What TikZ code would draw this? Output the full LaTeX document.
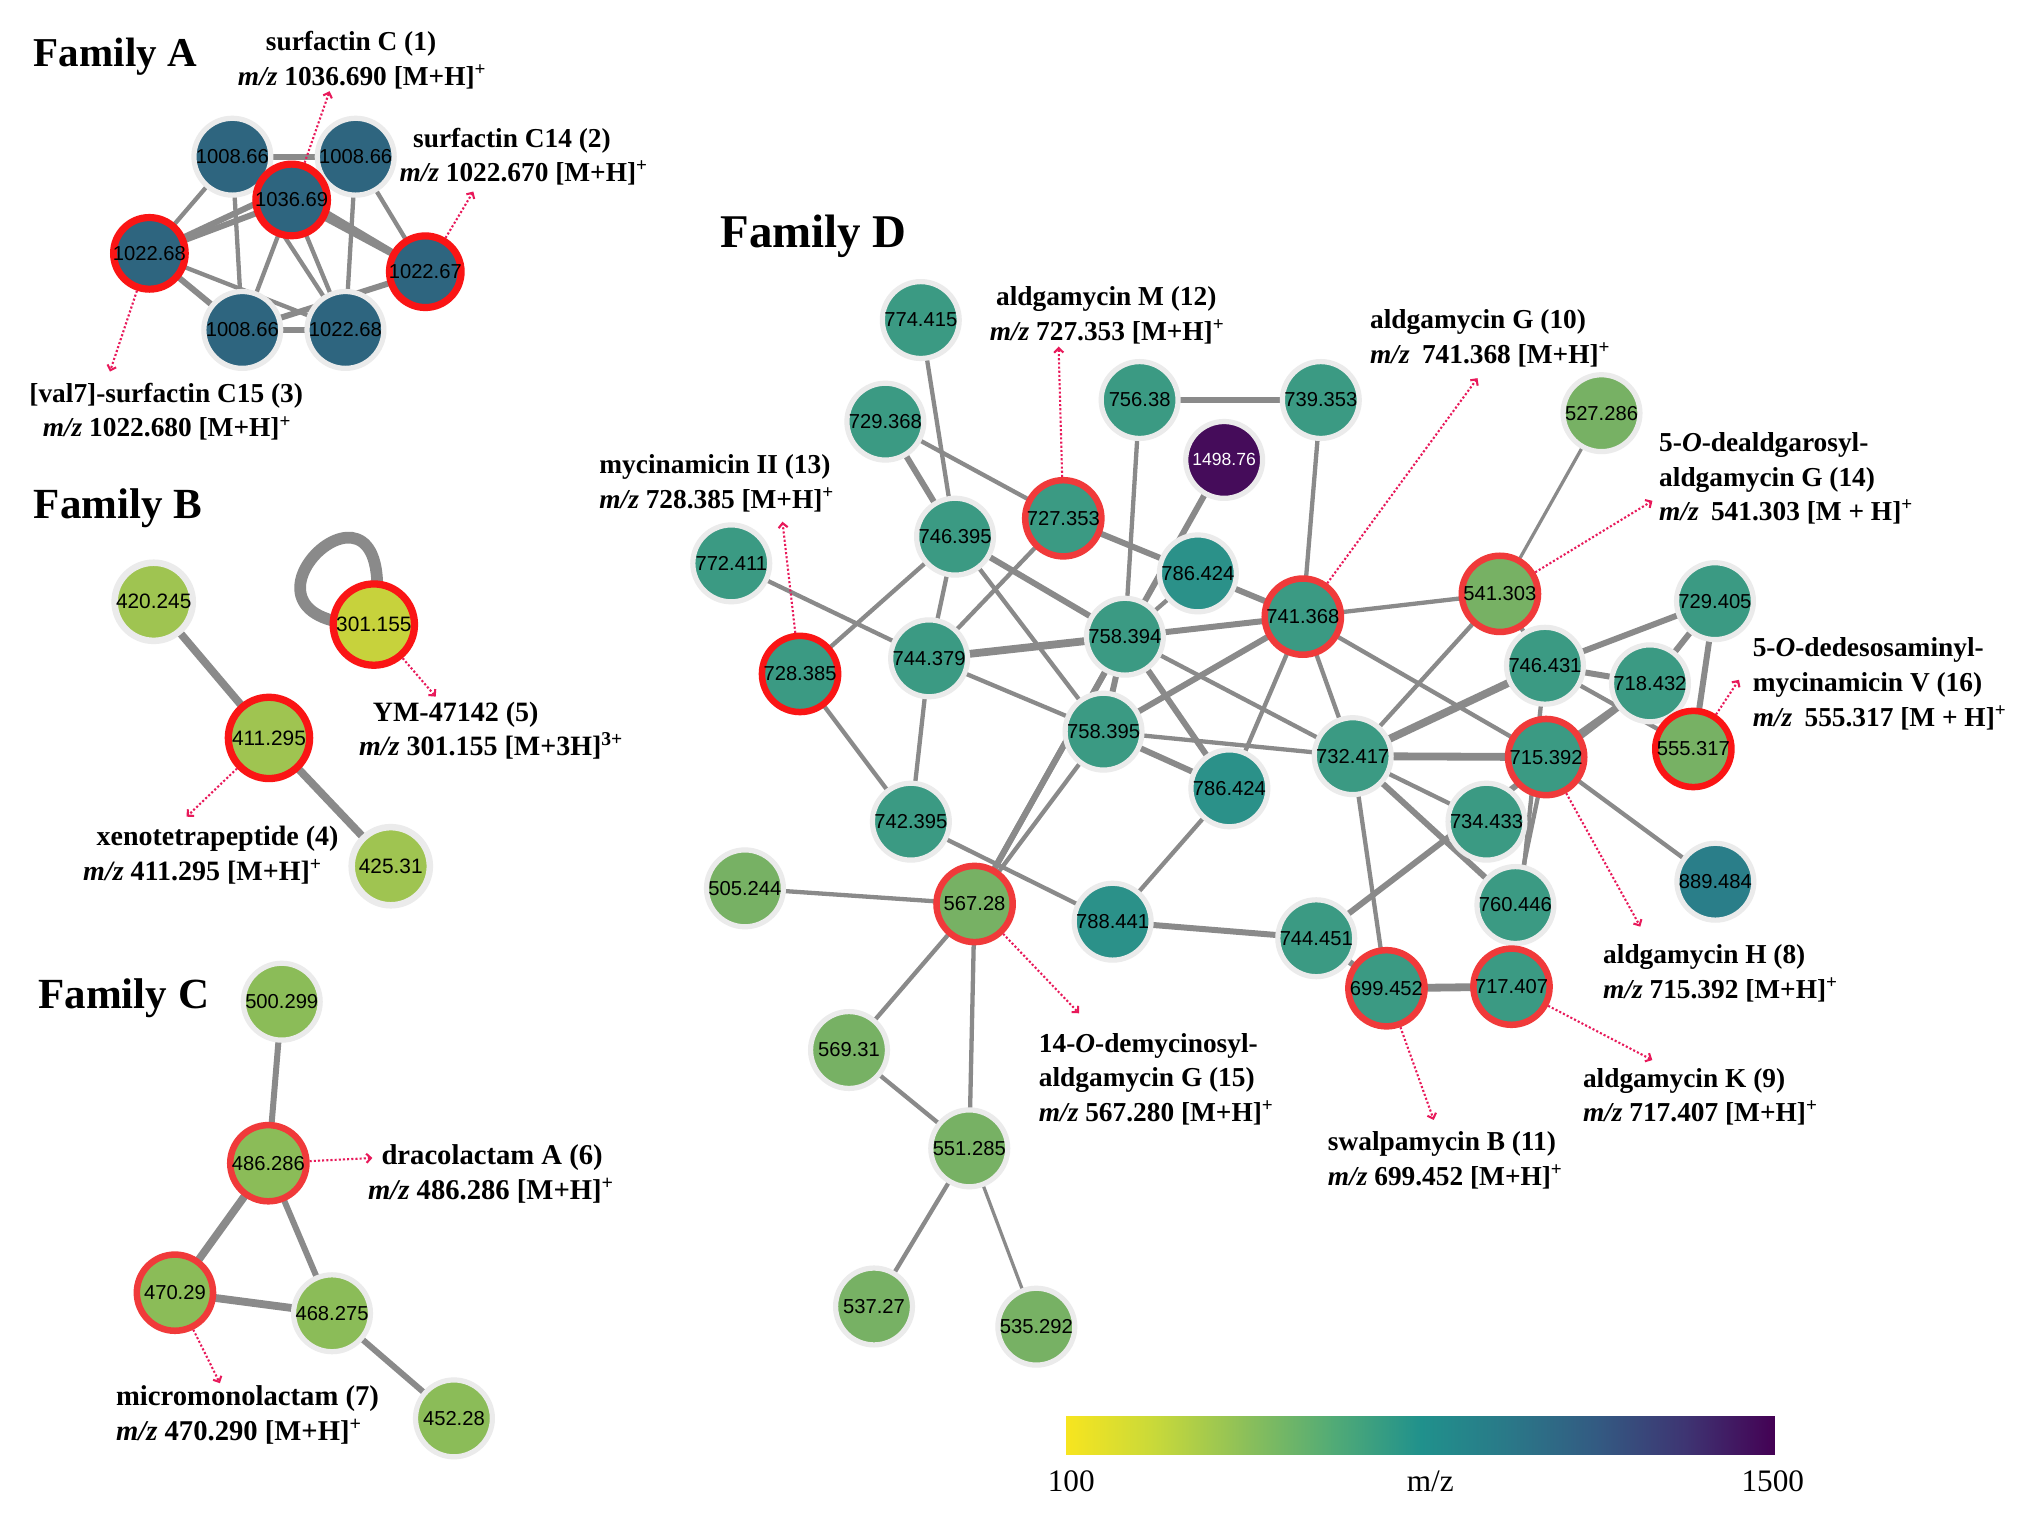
\documentclass[tikz,border=0pt]{standalone}
\usepackage{fontspec}
\setmainfont{Liberation Serif}
\setsansfont{Liberation Sans}
\usetikzlibrary{arrows.meta,backgrounds}
\definecolor{edgec}{HTML}{8A8A8A}
\definecolor{outl}{HTML}{EBEBEB}
\definecolor{red1}{HTML}{FA1515}
\definecolor{red2}{HTML}{F03A3A}
\definecolor{pk}{HTML}{E8195A}
\definecolor{famA}{HTML}{2E657F}
\definecolor{ylw}{HTML}{C7D23C}
\definecolor{gB}{HTML}{9FC451}
\definecolor{gC}{HTML}{8BBC58}
\definecolor{gD}{HTML}{77B164}
\definecolor{tl}{HTML}{3B9A83}
\definecolor{tlb}{HTML}{2B9189}
\definecolor{tlc}{HTML}{2A7E89}
\definecolor{pur}{HTML}{450C5A}
\definecolor{cb0}{HTML}{F7E51F}
\definecolor{cb1}{HTML}{C8D93A}
\definecolor{cb2}{HTML}{8DC059}
\definecolor{cb3}{HTML}{52AB76}
\definecolor{cb4}{HTML}{20918C}
\definecolor{cb5}{HTML}{2A7888}
\definecolor{cb6}{HTML}{335A82}
\definecolor{cb7}{HTML}{3E3472}
\definecolor{cb8}{HTML}{440154}
\newcommand{\ctr}[1]{\makebox[0pt]{#1}}
\newcommand{\mzi}{\textit{m/z}}
\newcommand{\sps}{\textsuperscript{+}}
\newcommand{\edg}[3]{\draw[#1] (#2.center) -- (#3.center);}
\tikzset{
  nd/.style={circle, inner sep=0pt, minimum size=59pt, draw=outl, line width=4pt,
    font=\sffamily\fontsize{15.5}{16}\selectfont, text=black},
  rd1/.style={nd, minimum size=58.5pt, draw=red1, line width=5pt},
  rd2/.style={nd, minimum size=58.5pt, draw=red2, line width=5pt},
  rdA/.style={nd, minimum size=55pt, draw=red1, line width=5.5pt},
  ndB/.style={nd, minimum size=60pt, line width=5pt, font=\sffamily\fontsize{16}{16}\selectfont},
  rdB/.style={ndB, minimum size=62.4pt, draw=red1, line width=5.6pt},
  ethin/.style={draw=edgec, line width=2.5pt},
  emed/.style={draw=edgec, line width=3.3pt},
  ethick/.style={draw=edgec, line width=4.6pt},
  evthick/.style={draw=edgec, line width=6pt},
  annot/.style={anchor=north west, inner sep=0pt, align=left,
    font=\bfseries\fontsize{21}{26.5}\selectfont},
  annotC/.style={annot, font=\bfseries\fontsize{22}{26.5}\selectfont},
  ttl/.style={anchor=base west, inner sep=0pt, font=\bfseries\fontsize{33}{33}\selectfont},
  arr/.style={draw=pk, line width=1.6pt, dash pattern=on 1.6pt off 1.6pt,
    -{Straight Barb[length=3.5pt,width=7pt]}},
  cbl/.style={inner sep=0pt, font=\fontsize{24}{24}\selectfont}
}
\begin{document}
\begin{tikzpicture}[x=1pt,y=-1pt]
\useasboundingbox (0,0) rectangle (1560,1169.5);

% ---------- Family A ----------
\node[ttl, font=\bfseries\fontsize{31.5}{31.5}\selectfont] (fA) at (25.8,51.2) {Family A};
\node[nd, fill=famA] (a1) at (178.4,120.3) {\ctr{1008.66}};
\node[nd, fill=famA] (a2) at (273.1,120.3) {\ctr{1008.66}};
\node[nd, fill=famA] (a6) at (186,253.3) {\ctr{1008.66}};
\node[nd, fill=famA] (a7) at (265.2,253.3) {\ctr{1022.68}};
\node[rdA, fill=famA] (a4) at (114.7,194.5) {\ctr{1022.68}};
\node[rdA, fill=famA] (a5) at (326.5,208.6) {\ctr{1022.67}};
\node[rdA, fill=famA] (a3) at (223.9,153.5) {\ctr{1036.69}};

\node[annot] (tA1) at (182.5,24) {\hspace*{21.5pt}surfactin C (1)\\\mzi{} 1036.690 [M+H]\sps};
\node[annot] (tA2) at (306.5,98) {\hspace*{10.5pt}surfactin C14 (2)\\\mzi{} 1022.670 [M+H]\sps};
\node[annot] (tA3) at (22.4,294) {[val7]-surfactin C15 (3)\\\hspace*{10.3pt}\mzi{} 1022.680 [M+H]\sps};
\coordinate (eA1) at (253,70);
\coordinate (eA2) at (363.4,147);
\coordinate (eA3) at (84.4,285.3);
\draw[arr] (a3) -- (eA1);
\draw[arr] (a5) -- (eA2);
\draw[arr] (a4) -- (eA3);

% ---------- Family B ----------
\node[ttl] (fB) at (25.8,397.9) {Family B};
\node[ndB, fill=gB] (b1) at (118,462) {\ctr{420.245}};
\node[rdB, fill=gB] (b2) at (206.5,566.5) {\ctr{411.295}};
\node[ndB, fill=gB] (b3) at (300,665) {\ctr{425.31}};
\node[rdB, fill=ylw] (b4) at (287,479.5) {\ctr{301.155}};
\node[annot, font=\bfseries\fontsize{21.5}{26.5}\selectfont] (tB5) at (275.5,538.5) {\hspace*{10.5pt}YM-47142 (5)\\\mzi{} 301.155 [M+3H]\textsuperscript{3+}};
\node[annot, font=\bfseries\fontsize{21.5}{26.5}\selectfont] (tB4) at (63.7,634) {\hspace*{10.3pt}xenotetrapeptide (4)\\\mzi{} 411.295 [M+H]\sps};
\coordinate (eB5) at (334.5,534.8);
\coordinate (eB4) at (143.3,627);
\draw[arr] (b4) -- (eB5);
\draw[arr] (b2) -- (eB4);

% ---------- Family C ----------
\node[ttl] (fC) at (29.3,774.1) {Family C};
\node[nd, fill=gC] (c1) at (216.3,769) {\ctr{500.299}};
\node[rd2, fill=gC] (c2) at (206,893) {\ctr{486.286}};
\node[rd2, fill=gC] (c3) at (134.3,992.4) {\ctr{470.29}};
\node[nd, fill=gC] (c4) at (254.9,1008.2) {\ctr{468.275}};
\node[nd, fill=gC] (c5) at (348.5,1088.9) {\ctr{452.28}};
\node[annotC] (tC6) at (282.4,878.7) {\hspace*{10.3pt}dracolactam A (6)\\\mzi{} 486.286 [M+H]\sps};
\node[annotC] (tC7) at (88.9,1063.9) {micromonolactam (7)\\\mzi{} 470.290 [M+H]\sps};
\coordinate (eC6) at (285.9,889);
\coordinate (eC7) at (168.8,1061.9);
\draw[arr] (c2) -- (eC6);
\draw[arr] (c3) -- (eC7);

% ---------- Family D ----------
\node[ttl, font=\bfseries\fontsize{36}{36}\selectfont] (fD) at (553,190) {Family D};
\node[nd, fill=tl] (n774) at (706.9,245.7) {\ctr{774.415}};
\node[nd, fill=tl] (n729a) at (679.7,323.7) {\ctr{729.368}};
\node[nd, fill=tl] (n756) at (874.9,307.1) {\ctr{756.38}};
\node[nd, fill=tl] (n739) at (1014,307.1) {\ctr{739.353}};
\node[nd, fill=pur, text=white, font=\sffamily\fontsize{13.5}{14}\selectfont] (n1498) at (939.8,353.1) {\ctr{1498.76}};
\node[nd, fill=gD] (n527) at (1229.5,317.2) {\ctr{527.286}};
\node[nd, fill=tl] (n746a) at (733.2,412) {\ctr{746.395}};
\node[rd2, fill=tl] (n727) at (816.3,397.9) {\ctr{727.353}};
\node[nd, fill=tl] (n772) at (561.4,432.5) {\ctr{772.411}};
\node[nd, fill=tlb] (n786u) at (919.6,440.2) {\ctr{786.424}};
\node[rd2, fill=tl] (n741) at (1000.2,473.4) {\ctr{741.368}};
\node[rd2, fill=gD] (n541) at (1151.5,455.9) {\ctr{541.303}};
\node[nd, fill=tl] (n729b) at (1316.6,461.5) {\ctr{729.405}};
\node[rd1, fill=tl] (n728) at (614.2,517.4) {\ctr{728.385}};
\node[nd, fill=tl] (n744a) at (713.3,505.4) {\ctr{744.379}};
\node[nd, fill=tl] (n758a) at (863.6,488.8) {\ctr{758.394}};
\node[nd, fill=tl] (n746b) at (1186.1,511.1) {\ctr{746.431}};
\node[nd, fill=tl] (n718) at (1266.7,524.6) {\ctr{718.432}};
\node[nd, fill=tl] (n758b) at (847.2,561.7) {\ctr{758.395}};
\node[nd, fill=tlb] (n786l) at (943.8,605.2) {\ctr{786.424}};
\node[nd, fill=tl] (n732) at (1038.5,580.5) {\ctr{732.417}};
\node[rd2, fill=tl] (n715) at (1187,581.2) {\ctr{715.392}};
\node[rd1, fill=gD] (n555) at (1300,575) {\ctr{555.317}};
\node[nd, fill=tl] (n742) at (699.3,630.8) {\ctr{742.395}};
\node[nd, fill=tl] (n734) at (1141.2,630.8) {\ctr{734.433}};
\node[nd, fill=tlc] (n889) at (1316.9,676.9) {\ctr{889.484}};
\node[nd, fill=gD] (n505) at (571.9,682) {\ctr{505.244}};
\node[rd2, fill=gD] (n567) at (748.2,694) {\ctr{567.28}};
\node[nd, fill=tlb] (n788) at (854.2,707.6) {\ctr{788.441}};
\node[nd, fill=tl] (n760) at (1163.4,694.8) {\ctr{760.446}};
\node[nd, fill=tl] (n744b) at (1010.5,720.3) {\ctr{744.451}};
\node[rd2, fill=tl] (n699) at (1064.4,758.7) {\ctr{699.452}};
\node[rd2, fill=tl] (n717) at (1160.4,757.5) {\ctr{717.407}};
\node[nd, fill=gD] (n569) at (651.8,806.1) {\ctr{569.31}};
\node[nd, fill=gD] (n551) at (744.1,881.6) {\ctr{551.285}};
\node[nd, fill=gD] (n537) at (671,1003) {\ctr{537.27}};
\node[nd, fill=gD] (n535) at (795.6,1018.5) {\ctr{535.292}};

\node[annot] (t12) at (759.7,219.8) {\hspace*{4.8pt}aldgamycin M (12)\\\mzi{} 727.353 [M+H]\sps};
\node[annot] (t10) at (1051.7,237.8) {aldgamycin G (10)\\\mzi{}\hspace{0.2em} 741.368 [M+H]\sps};
\node[annot] (t13) at (460,349) {mycinamicin II (13)\\\mzi{} 728.385 [M+H]\sps};
\node[annot] (t14) at (1273.6,332) {5-\textit{O}-dealdgarosyl-\\aldgamycin G (14)\\\mzi{}\hspace{0.2em} 541.303 [M + H]\sps};
\node[annot] (t16) at (1345.4,489.6) {5-\textit{O}-dedesosaminyl-\\mycinamicin V (16)\\\mzi{}\hspace{0.2em} 555.317 [M + H]\sps};
\node[annot] (t8) at (1230.6,725.2) {aldgamycin H (8)\\\mzi{} 715.392 [M+H]\sps};
\node[annot] (t9) at (1215.1,819.8) {aldgamycin K (9)\\\mzi{} 717.407 [M+H]\sps};
\node[annot] (t11) at (1019.3,868.5) {swalpamycin B (11)\\\mzi{} 699.452 [M+H]\sps};
\node[annot] (t15) at (797.4,793) {14-\textit{O}-demycinosyl-\\aldgamycin G (15)\\\mzi{} 567.280 [M+H]\sps};

\coordinate (e12) at (812.7,266.1);
\coordinate (e10) at (1134.3,290.3);
\coordinate (e13) at (600.7,400.5);
\coordinate (e14) at (1268.6,384.5);
\coordinate (e16) at (1335,521.9);
\coordinate (e8) at (1259.3,711.4);
\coordinate (e9) at (1268.5,813.8);
\coordinate (e11) at (1100.7,859.8);
\coordinate (e15) at (828.4,777.9);
\draw[arr] (n727) -- (e12);
\draw[arr] (n741) -- (e10);
\draw[arr] (n728) -- (e13);
\draw[arr] (n541) -- (e14);
\draw[arr] (n555) -- (e16);
\draw[arr] (n715) -- (e8);
\draw[arr] (n717) -- (e9);
\draw[arr] (n699) -- (e11);
\draw[arr] (n567) -- (e15);

% ---------- colour bar ----------
\shade[left color=cb0, right color=cb1] (818.5,1087.6) rectangle (887,1117);
\shade[left color=cb1, right color=cb2] (886.5,1087.6) rectangle (955,1117);
\shade[left color=cb2, right color=cb3] (954.5,1087.6) rectangle (1023,1117);
\shade[left color=cb3, right color=cb4] (1022.5,1087.6) rectangle (1091,1117);
\shade[left color=cb4, right color=cb5] (1090.5,1087.6) rectangle (1159,1117);
\shade[left color=cb5, right color=cb6] (1158.5,1087.6) rectangle (1227,1117);
\shade[left color=cb6, right color=cb7] (1226.5,1087.6) rectangle (1295,1117);
\shade[left color=cb7, right color=cb8] (1294.5,1087.6) rectangle (1362.5,1117);
\node[cbl] (l100) at (822.4,1137.5) {100};
\node[cbl] (lmz) at (1098,1137.5) {m/z};
\node[cbl] (l1500) at (1361,1137.5) {1500};

% ---------- edges (behind nodes) ----------
\begin{pgfonlayer}{background}
\fill[white] (0,0) rectangle (1560,1169.5);
% Family A
\edg{ethick}{a1}{a2}
\edg{emed}{a1}{a4}
\edg{emed}{a1}{a6}
\edg{emed}{a1}{a7}
\edg{emed}{a2}{a5}
\edg{emed}{a2}{a7}
\edg{ethick}{a3}{a4}
\edg{ethick}{a2}{a4}
\edg{ethick}{a3}{a5}
\edg{ethick}{a1}{a5}
\edg{emed}{a3}{a6}
\edg{emed}{a3}{a7}
\edg{ethick}{a4}{a6}
\edg{emed}{a4}{a7}
\edg{ethick}{a5}{a6}
\edg{ethick}{a6}{a7}
% Family B
\edg{evthick}{b1}{b2}
\edg{evthick}{b2}{b3}
\draw[draw=edgec, line width=9pt] (b4.center) .. controls (148,482) and (312,328) .. (b4.center);
% Family C
\edg{ethick}{c1}{c2}
\edg{evthick}{c2}{c3}
\edg{ethick}{c2}{c4}
\edg{evthick}{c3}{c4}
\edg{ethick}{c4}{c5}
% Family D
\edg{emed}{n774}{n746a}
\edg{ethick}{n729a}{n746a}
\edg{emed}{n729a}{n727}
\edg{ethick}{n756}{n739}
\edg{emed}{n756}{n758a}
\edg{emed}{n739}{n741}
\edg{ethick}{n1498}{n567}
\edg{ethick}{n727}{n786u}
\edg{ethick}{n786u}{n741}
\edg{emed}{n727}{n744a}
\edg{emed}{n746a}{n744a}
\edg{emed}{n746a}{n728}
\edg{ethick}{n746a}{n758a}
\edg{emed}{n746a}{n758b}
\edg{emed}{n772}{n744a}
\edg{evthick}{n744a}{n758a}
\edg{emed}{n744a}{n758b}
\edg{emed}{n744a}{n742}
\edg{emed}{n728}{n742}
\edg{emed}{n742}{n788}
\edg{ethick}{n758a}{n741}
\edg{ethick}{n758a}{n758b}
\edg{ethick}{n758a}{n567}
\edg{emed}{n758b}{n567}
\edg{emed}{n786u}{n758a}
\edg{emed}{n741}{n541}
\edg{ethick}{n741}{n758b}
\edg{emed}{n741}{n732}
\edg{emed}{n741}{n715}
\edg{emed}{n741}{n786l}
\edg{emed}{n758a}{n732}
\edg{ethick}{n758a}{n786l}
\edg{emed}{n758b}{n732}
\edg{ethick}{n758b}{n786l}
\edg{emed}{n786l}{n788}
\edg{emed}{n732}{n541}
\edg{evthick}{n732}{n746b}
\edg{evthick}{n732}{n715}
\edg{emed}{n732}{n734}
\edg{ethick}{n732}{n760}
\edg{emed}{n732}{n699}
\edg{ethin}{n541}{n527}
\edg{emed}{n541}{n746b}
\edg{ethick}{n746b}{n729b}
\edg{ethick}{n746b}{n718}
\edg{emed}{n746b}{n555}
\edg{emed}{n746b}{n717}
\edg{ethick}{n718}{n729b}
\edg{ethick}{n715}{n718}
\edg{ethick}{n744b}{n718}
\edg{emed}{n715}{n760}
\edg{emed}{n715}{n889}
\edg{ethick}{n729b}{n555}
\edg{ethick}{n744b}{n788}
\edg{ethick}{n744b}{n699}
\edg{evthick}{n699}{n717}
\edg{emed}{n567}{n505}
\edg{emed}{n567}{n569}
\edg{emed}{n567}{n551}
\edg{emed}{n569}{n551}
\edg{emed}{n551}{n537}
\edg{ethin}{n551}{n535}
\end{pgfonlayer}
\end{tikzpicture}
\end{document}
